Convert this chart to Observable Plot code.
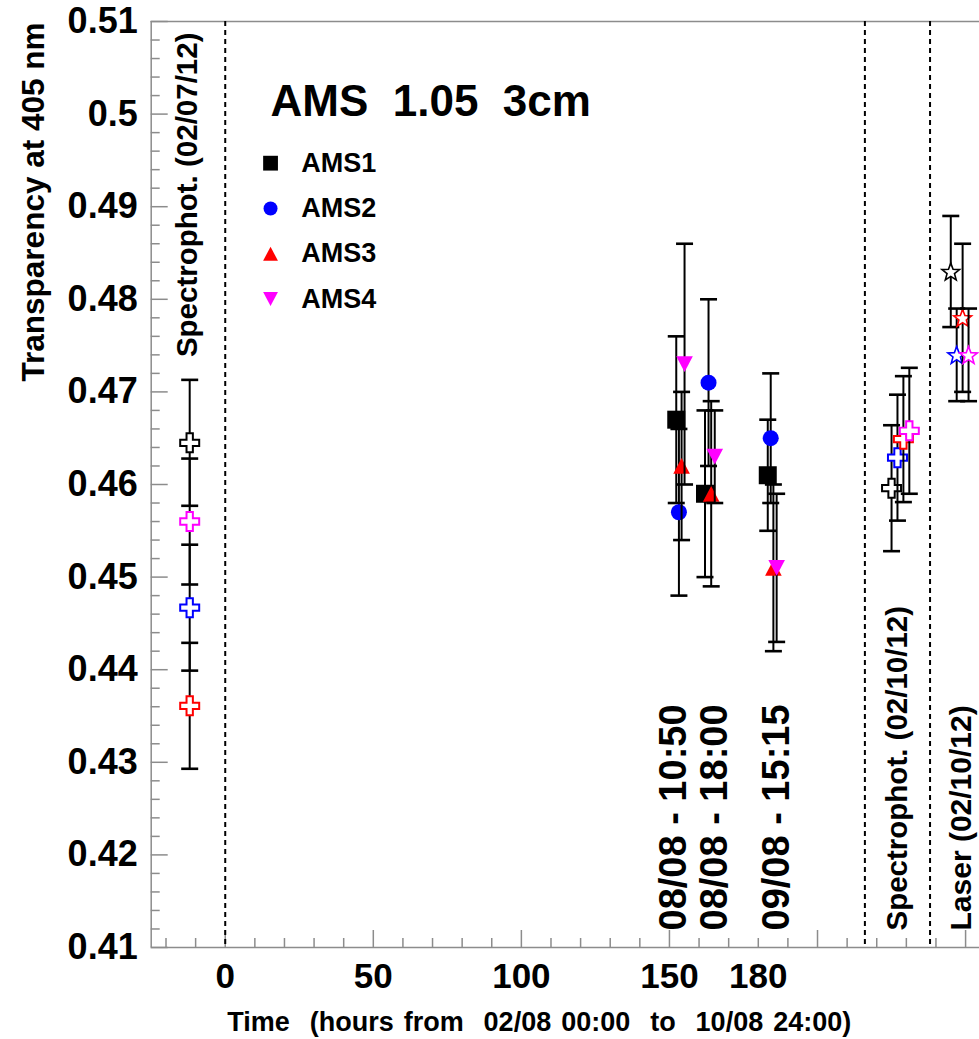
<!DOCTYPE html>
<html><head><meta charset="utf-8">
<script src="https://cdn.jsdelivr.net/npm/d3@7"></script>
<script src="https://cdn.jsdelivr.net/npm/@observablehq/plot@0.6"></script>
<style>
body{margin:0;background:#fff}
svg text{white-space:pre}
</style>
</head><body><div id="chart"></div>
<script>
// ---------- data ----------
const series = ["AMS1", "AMS2", "AMS3", "AMS4"];
const colors = ["#000000", "#0000ff", "#ff0000", "#ff00ff"];

// run measurements (hours from 02/08 00:00)
const runHours = [
  [152.3, 162.0, 183.2],
  [153.2, 163.2, 184.2],
  [154.1, 164.1, 185.1],
  [155.1, 165.3, 186.2]
];
const runValues = [
  [0.467, 0.459, 0.461],
  [0.457, 0.471, 0.465],
  [0.462, 0.459, 0.451],
  [0.473, 0.463, 0.451]
];
const runErrors = [
  [0.009, 0.009, 0.006],
  [0.009, 0.009, 0.007],
  [0.008, 0.010, 0.009],
  [0.013, 0.005, 0.008]
];

// spectrophotometer 02/07/12
const spectroJulyHours = [-12, -12, -12, -12];
const spectroJulyValues = [0.4645, 0.4467, 0.4361, 0.4560];
const spectroJulyErrors = [0.0068, 0.0068, 0.0068, 0.0068];

// spectrophotometer 02/10/12
const spectroOctHours = [225, 227, 229, 231];
const spectroOctValues = [0.4596, 0.4629, 0.4649, 0.4658];
const spectroOctErrors = [0.0068, 0.0068, 0.0068, 0.0068];

// laser 02/10/12
const laserHours = [245, 247, 249, 251];
const laserValues = [0.483, 0.474, 0.478, 0.474];
const laserErrors = [0.006, 0.005, 0.008, 0.005];

const dashedHours = [0, 216, 238];
const yTickValues = [0.41, 0.42, 0.43, 0.44, 0.45, 0.46, 0.47, 0.48, 0.49, 0.5, 0.51];
const xTickLabels = [0, 50, 100, 150, 180];
const xMajorTicks = [0, 50, 100, 150, 200, 250];
const dateLabels = ["08/08 - 10:50", "08/08 - 18:00", "09/08 - 15:15"];

const title = "AMS  1.05  3cm";
const yTitle = "Transparency at 405 nm";
const xTitle = "Time  (hours from  02/08 00:00  to  10/08 24:00)";

// ---------- helpers ----------
const xDomain = [-25, 254.7];
const yDomain = [0.41, 0.51];
const gray = "#8c8c8c";
const yMinor = d3.range(205, 256).map(d => d / 500).filter(v => Math.abs(v * 100 - Math.round(v * 100)) > 1e-6);
const xMinor = d3.range(-20, 255, 10).filter(v => v % 50 !== 0);

const rad = size => Math.sqrt(size / Math.PI);
const sqSym = {draw(c, s) { const r = rad(s); c.rect(-r, -r, 2 * r, 2 * r); }};
const upTri = {draw(c, s) { const r = rad(s), h = r * 0.95; c.moveTo(0, -h); c.lineTo(r, h); c.lineTo(-r, h); c.closePath(); }};
const downTri = {draw(c, s) { const r = rad(s), h = r * 0.95; c.moveTo(0, h); c.lineTo(r, -h); c.lineTo(-r, -h); c.closePath(); }};
const capSym = {draw(c, s) { const r = rad(s); c.moveTo(-r, 0); c.lineTo(r, 0); }};
const crossSym = {draw(c, s) {
  const r = rad(s), a = r / 3;
  c.moveTo(-a, -r); c.lineTo(a, -r); c.lineTo(a, -a); c.lineTo(r, -a); c.lineTo(r, a); c.lineTo(a, a);
  c.lineTo(a, r); c.lineTo(-a, r); c.lineTo(-a, a); c.lineTo(-r, a); c.lineTo(-r, -a); c.lineTo(-a, -a); c.closePath();
}};
const starSym = {draw(c, s) {
  const R = rad(s), ri = R * 0.42;
  for (let k = 0; k < 10; k++) {
    const ang = -Math.PI / 2 + k * Math.PI / 5, rr = k % 2 ? ri : R;
    const px = rr * Math.cos(ang), py = rr * Math.sin(ang) + R * 0.1;
    k ? c.lineTo(px, py) : c.moveTo(px, py);
  }
  c.closePath();
}};
const filledSyms = [sqSym, "circle", upTri, downTri];
const filledR = [9, 8, 8.3, 8.3];
const legendR = [7.4, 7, 7.4, 7.4];

function rows(hours, values, errors) {
  return hours.map((h, j) => ({hour: h, value: values[j], err: errors[j]}));
}

function errorMarks(data, opts) {
  return [
    Plot.ruleX(data, {x: "hour", y1: d => d.value - d.err, y2: d => d.value + d.err, stroke: "black", strokeWidth: 2}),
    Plot.dot(data, {x: "hour", y: d => d.value + d.err, symbol: capSym, r: 8.5, stroke: "black", strokeWidth: 2.6, fill: "none"}),
    Plot.dot(data, {x: "hour", y: d => d.value - d.err, symbol: capSym, r: 8.5, stroke: "black", strokeWidth: 2.6, fill: "none"}),
    Plot.dot(data, {x: "hour", y: "value", ...opts})
  ];
}

const dataMarks = [];
series.forEach((s, i) => {
  dataMarks.push(...errorMarks(rows(runHours[i], runValues[i], runErrors[i]),
    {symbol: filledSyms[i], r: filledR[i], fill: colors[i], stroke: "none"}));
});
series.forEach((s, i) => {
  dataMarks.push(...errorMarks(rows([spectroJulyHours[i]], [spectroJulyValues[i]], [spectroJulyErrors[i]]),
    {symbol: crossSym, r: 9.5, fill: "white", stroke: colors[i], strokeWidth: 2}));
});
series.forEach((s, i) => {
  dataMarks.push(...errorMarks(rows([spectroOctHours[i]], [spectroOctValues[i]], [spectroOctErrors[i]]),
    {symbol: crossSym, r: 9.5, fill: "white", stroke: colors[i], strokeWidth: 2}));
});
series.forEach((s, i) => {
  dataMarks.push(...errorMarks(rows([laserHours[i]], [laserValues[i]], [laserErrors[i]]),
    {symbol: starSym, r: 9.3, fill: "white", stroke: colors[i], strokeWidth: 1.6}));
});

// legend rows (data space)
const legendRows = series.map((s, i) => ({s, i, hour: 15.3, value: 0.4947 - i * 0.00489}));

const font = "'Liberation Sans', Arial, Helvetica, sans-serif";

const svg = Plot.plot({
  width: 979,
  height: 1039,
  marginTop: 21,
  marginBottom: 92,
  marginLeft: 150.7,
  marginRight: 0,
  style: {fontFamily: font, background: "white", color: "black"},
  x: {domain: xDomain, axis: null, label: null},
  y: {domain: yDomain, axis: null, label: null},
  marks: [
    // frame
    Plot.ruleY([yDomain[1]], {stroke: gray, strokeWidth: 1.5}),
    Plot.ruleY([yDomain[0]], {stroke: gray, strokeWidth: 1.5}),
    Plot.ruleX([xDomain[0]], {stroke: gray, strokeWidth: 1.5}),
    // y ticks
    Plot.axisY({ticks: yTickValues, tickSize: -17, fill: "none", stroke: gray, strokeWidth: 1.5, label: null}),
    Plot.axisY({ticks: yMinor, tickSize: -9, fill: "none", stroke: gray, strokeWidth: 1.5, label: null}),
    Plot.axisY({ticks: yTickValues, tickSize: 0, tickPadding: 13.5, label: null,
      tickFormat: d => String(Math.round(d * 100) / 100), fontSize: 36, fontWeight: "bold"}),
    // x ticks
    Plot.axisX({ticks: xMajorTicks, tickSize: -17, fill: "none", stroke: gray, strokeWidth: 1.5, label: null}),
    Plot.axisX({ticks: xMinor, tickSize: -9, fill: "none", stroke: gray, strokeWidth: 1.5, label: null}),
    Plot.axisX({ticks: xTickLabels, tickSize: 0, tickPadding: 16, label: null,
      tickFormat: d => String(d), fontSize: 35, fontWeight: "bold"}),
    // dashed separators
    Plot.ruleX(dashedHours, {stroke: "black", strokeWidth: 2, strokeDasharray: "5,4"}),
    // annotations
    Plot.text(dateLabels, {x: [155.5, 169.6, 190.3], text: d => d, frameAnchor: "bottom", dy: -17,
      rotate: -90, textAnchor: "start", lineAnchor: "bottom", fontSize: 38, fontWeight: "bold"}),
    Plot.text(["Spectrophot. (02/10/12)"], {x: [230.3], text: d => d, frameAnchor: "bottom", dy: -17,
      rotate: -90, textAnchor: "start", lineAnchor: "bottom", fontSize: 29.5, fontWeight: "bold"}),
    Plot.text(["Laser (02/10/12)"], {x: [251.8], text: d => d, frameAnchor: "bottom", dy: -17,
      rotate: -90, textAnchor: "start", lineAnchor: "bottom", fontSize: 30, fontWeight: "bold"}),
    Plot.text(["Spectrophot. (02/07/12)"], {x: [-9.4], text: d => d, frameAnchor: "top", dy: 11,
      rotate: -90, textAnchor: "end", lineAnchor: "bottom", fontSize: 29.5, fontWeight: "bold"}),
    // data
    ...dataMarks,
    // title
    Plot.text([title], {frameAnchor: "top-left", dx: 119.3, dy: 94, textAnchor: "start", lineAnchor: "bottom",
      fontSize: 44, fontWeight: "bold"}),
    // legend
    ...legendRows.map(d => Plot.dot([d], {x: "hour", y: "value", symbol: filledSyms[d.i], r: legendR[d.i], fill: colors[d.i], stroke: "none"})),
    Plot.text(legendRows, {x: 25.7, y: "value", text: "s", textAnchor: "start", lineAnchor: "middle", fontSize: 27, fontWeight: "bold"}),
    // axis titles
    Plot.text([yTitle], {frameAnchor: "top-left", dx: -107.5, dy: 1, rotate: -90, textAnchor: "end", lineAnchor: "bottom",
      fontSize: 31.5, fontWeight: "bold"}),
    Plot.text([xTitle], {frameAnchor: "bottom-left", dx: 76, dy: 83, textAnchor: "start", lineAnchor: "bottom",
      fontSize: 27, fontWeight: "bold"})
  ]
});
document.getElementById("chart").append(svg);

// stretch the x-axis title spacing to the reference width
const xt = [...svg.querySelectorAll("text")].find(e => e.textContent === xTitle);
if (xt) {
  const len = xt.getComputedTextLength();
  const nSpaces = (xTitle.match(/ /g) || []).length;
  xt.style.wordSpacing = Math.max(0, (624 - len) / nSpaces) + "px";
}
</script>
</body></html>
